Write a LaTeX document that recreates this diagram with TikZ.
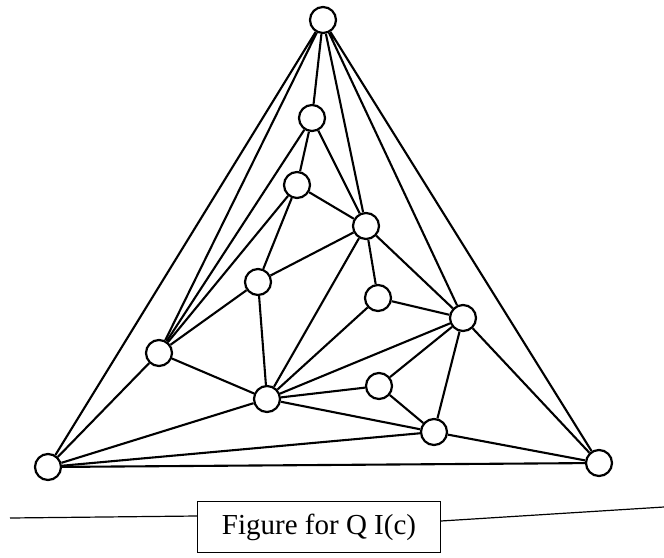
\documentclass[tikz,border=0pt]{standalone}
\usepackage{fontspec}
\setmainfont{Liberation Serif}
\usetikzlibrary{positioning}

\begin{document}
\begin{tikzpicture}[
  x=1pt,y=-1pt,
  vertex/.style={draw=black, circle, fill=white, line width=2.2pt,
    minimum size=26pt, inner sep=0pt},
  edge/.style={line width=2.1pt, draw=black},
  caption/.style={draw=black, line width=0.9pt, minimum width=243pt,
    minimum height=51pt, inner sep=0pt, font=\fontsize{29}{34}\selectfont},
  rule/.style={line width=1.2pt, draw=black}
]
\useasboundingbox (0,0) rectangle (664,557);

% outer triangle
\node[vertex] (apex) at (323,20) {};
\node[vertex] (baseL) at (48,467) {};
\node[vertex] (baseR) at (599,463) {};

% inner vertices
\node[vertex] (a) at (312,118) {};
\node[vertex] (b) at (297,185) {};
\node[vertex] (c) at (366,226) {};
\node[vertex] (d) at (258,282) {};
\node[vertex] (e) at (378,298) {};
\node[vertex] (f) at (463,318) {};
\node[vertex] (g) at (159,353) {};
\node[vertex] (h) at (267,399) {};
\node[vertex] (i) at (379,386) {};
\node[vertex] (j) at (434,432) {};

\draw[edge] (apex) -- (a) (apex) -- (c) (apex) -- (f) (apex) -- (baseR)
  (apex) -- (g) (apex) -- (baseL);
\draw[edge] (a) -- (b) (a) -- (c) (a) -- (g);
\draw[edge] (b) -- (c) (b) -- (d) (b) -- (g);
\draw[edge] (c) -- (d) (c) -- (e) (c) -- (f) (c) -- (h);
\draw[edge] (d) -- (g) (d) -- (h);
\draw[edge] (e) -- (f) (e) -- (h);
\draw[edge] (f) -- (h) (f) -- (i) (f) -- (j) (f) -- (baseR);
\draw[edge] (g) -- (h) (g) -- (baseL);
\draw[edge] (h) -- (i) (h) -- (j) (h) -- (baseL);
\draw[edge] (i) -- (j);
\draw[edge] (j) -- (baseL) (j) -- (baseR);
\draw[edge] (baseL) -- (baseR);

% caption
\node[caption] (cap) at (319,527) {Figure for Q I(c)};
\coordinate (ruleL) at (10,518);
\coordinate (ruleR) at (664,507);
\draw[rule] (ruleL) -- ([yshift=11pt]cap.west);
\draw[rule] ([yshift=6pt]cap.east) -- (ruleR);
\end{tikzpicture}
\end{document}
